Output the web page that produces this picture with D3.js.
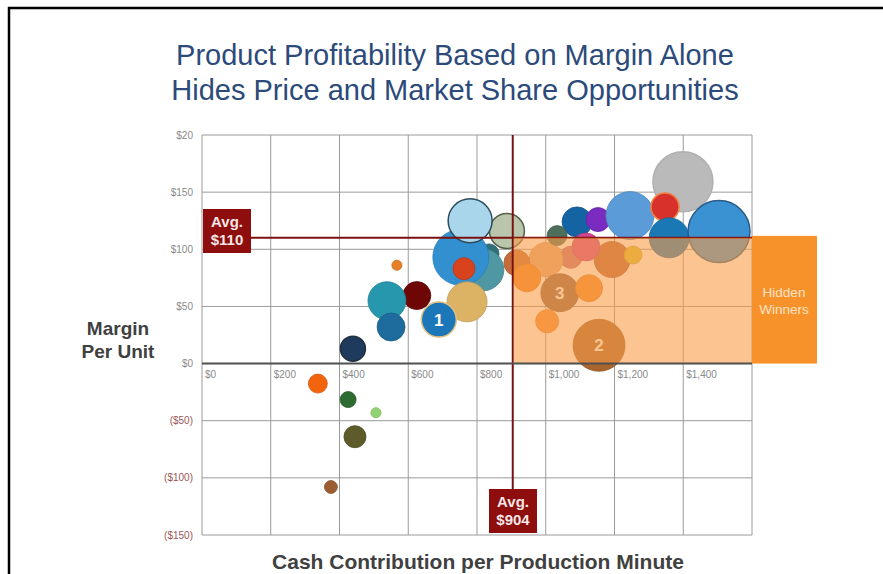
<!DOCTYPE html>
<html lang="en">
<head>
	<meta charset="utf-8">
	<title>Product Profitability</title>
	<script src="https://d3js.org/d3.v7.min.js"></script>
	<style>
		body { margin: 0; background: #fff; }
		svg { display: block; font-family: "Liberation Sans", Arial, sans-serif; }
	</style>
</head>
<body>
	<div id="chart"></div>
	<script>
		// Data
		const cash = [1091, 1152, 1245, 1399, 1347, 1359, 1504,
			1073, 1193, 1117, 1254, 1001, 1033,
			916, 945, 1041, 1126, 1004, 1155,
			835, 817, 753, 887, 780, 762, 771, 689,
			625, 538, 550, 567, 439, 337, 425, 506, 445, 375];
		const margin = [124, 126, 129.5, 159, 137, 110, 115.5,
			93, 91, 102, 95, 91, 112,
			88, 75, 62, 66, 37, 16,
			96, 82, 93, 116, 125, 83, 54, 38.5,
			59.5, 55, 32, 86, 13, -17.5, -31.5, -43, -64, -108];
		const volume = [140, 90, 360, 562, 122, 250, 600,
			76, 202, 122, 50, 180, 62,
			106, 122, 225, 114, 83, 422,
			62, 276, 490, 191, 302, 76, 250, 191,
			122, 225, 122, 16, 98, 56, 40, 16, 76, 26];
		const colors = ["#1463a3", "#7a2bc0", "#5b9bd8", "#bababa", "#d8302a", "#1a78b4", "#3a92d3",
			"#c4707a", "#b86440", "#d2458f", "#d9c235", "#e3a878", "#4d6e5a",
			"#c46d3a", "#f28526", "#8c6448", "#f58a2c", "#f7903a", "#a8652e",
			"#2e6f78", "#4f97a2", "#3390d0", "#b9c6ac", "#a9d6ea", "#d8421c", "#dcb264", "#1b77b7",
			"#6e0606", "#2697ad", "#1e6c9d", "#e58026", "#1e3b5e", "#f3640f", "#2e6b32", "#92d274", "#5d5b2a", "#9c5c32"];
		const strokes = { 3: "#b0b0b0", 6: "#2a5b85", 22: "#55604a", 23: "#2b4a5e", 26: "#e0c080", 4: "#f08040", 31: "#233040" };
		const tags = { 15: "3", 18: "2", 26: "1" };

		const yTicks = [200, 150, 100, 50, 0, -50, -100, -150];
		const yLabels = ["$20", "$150", "$100", "$50", "$0", "($50)", "($100)", "($150)"];
		const xTicks = [0, 200, 400, 600, 800, 1000, 1200, 1400, 1600];
		const xLabels = ["$0", "$200", "$400", "$600", "$800", "$1,000", "$1,200", "$1,400", ""];

		const avgCash = 904;
		const avgMargin = 110;

		const W = 883, H = 574;
		const svg = d3.select("#chart").append("svg")
			.attr("width", W)
			.attr("height", H);

		// frame
		svg.append("path")
			.attr("d", "M9,574 V8 H883")
			.attr("fill", "none")
			.attr("stroke", "#000")
			.attr("stroke-width", 2.5);

		// Scales
		const x = d3.scaleLinear().domain([0, 1600]).range([202, 752]);
		const y = d3.scaleLinear().domain([-150, 200]).range([535, 135]);
		const r = d3.scaleSqrt().domain([0, 1000]).range([0, 40]);

		// Title
		svg.append("g").selectAll("text")
			.data(["Product Profitability Based on Margin Alone", "Hides Price and Market Share Opportunities"])
			.join("text")
			.attr("x", 455)
			.attr("y", (d, i) => 65 + i * 35)
			.attr("text-anchor", "middle")
			.style("font-size", "29px")
			.style("fill", "#2c4a7a")
			.text(d => d);

		// Grid
		const grid = svg.append("g");
		grid.selectAll(".vg")
			.data(xTicks)
			.join("line")
			.attr("x1", d => x(d)).attr("x2", d => x(d))
			.attr("y1", y(200)).attr("y2", y(-150))
			.attr("stroke", "#9a9a9a");
		grid.selectAll(".hg")
			.data(yTicks)
			.join("line")
			.attr("x1", x(0)).attr("x2", x(1600))
			.attr("y1", d => y(d)).attr("y2", d => y(d))
			.attr("stroke", "#9a9a9a");

		// Tick labels
		svg.append("g").selectAll("text")
			.data(yTicks)
			.join("text")
			.attr("x", 193)
			.attr("y", d => y(d) + 3.5)
			.attr("text-anchor", "end")
			.style("font-size", "10px")
			.style("fill", d => d < 0 ? "#9a5656" : "#8a8a8a")
			.text((d, i) => yLabels[i]);

		svg.append("g").selectAll("text")
			.data(xTicks)
			.join("text")
			.attr("x", d => x(d) + 3)
			.attr("y", y(0) + 14)
			.style("font-size", "10px")
			.style("fill", "#8a8a8a")
			.text((d, i) => xLabels[i]);

		// Bubbles
		const bubbles = svg.append("g");
		bubbles.selectAll("circle")
			.data(cash)
			.join("circle")
			.attr("cx", d => x(d))
			.attr("cy", (d, i) => y(margin[i]))
			.attr("r", (d, i) => r(volume[i]))
			.attr("fill", (d, i) => colors[i])
			.attr("stroke", (d, i) => strokes[i] || d3.color(colors[i]).darker(0.4))
			.attr("stroke-width", (d, i) => strokes[i] ? 1.5 : 0.8);

		bubbles.selectAll("text")
			.data(Object.keys(tags))
			.join("text")
			.attr("x", d => x(cash[d]))
			.attr("y", d => y(margin[d]) + 6)
			.attr("text-anchor", "middle")
			.style("font-size", "17px")
			.style("font-weight", "bold")
			.style("fill", "#fff")
			.text(d => tags[d]);

		// Average lines
		svg.append("line")
			.attr("x1", x(avgCash)).attr("x2", x(avgCash))
			.attr("y1", y(200)).attr("y2", 490)
			.attr("stroke", "#7a1010")
			.attr("stroke-width", 2);
		svg.append("line")
			.attr("x1", 250).attr("x2", x(1600))
			.attr("y1", y(avgMargin)).attr("y2", y(avgMargin))
			.attr("stroke", "#7a1010")
			.attr("stroke-width", 2);

		// Hidden winners overlay
		svg.append("rect")
			.attr("x", x(avgCash) + 1)
			.attr("y", y(avgMargin))
			.attr("width", x(1600) - x(avgCash) - 1)
			.attr("height", y(0) - y(avgMargin))
			.attr("fill", "#f99c48")
			.attr("opacity", 0.6);

		// zero line
		svg.append("line")
			.attr("x1", x(0)).attr("x2", x(1600))
			.attr("y1", y(0)).attr("y2", y(0))
			.attr("stroke", "#505050")
			.attr("stroke-width", 2);

		svg.append("rect")
			.attr("x", x(1600))
			.attr("y", y(avgMargin) - 2)
			.attr("width", 65)
			.attr("height", y(0) - y(avgMargin) + 2)
			.attr("fill", "#f7922a");
		svg.append("g").selectAll("text")
			.data(["Hidden", "Winners"])
			.join("text")
			.attr("x", x(1600) + 32)
			.attr("y", (d, i) => 297 + i * 17)
			.attr("text-anchor", "middle")
			.style("font-size", "13.5px")
			.style("fill", "#fde3c6")
			.text(d => d);

		// Average tags
		const tagBox = (bx, by, val) => {
			const g = svg.append("g");
			g.append("rect")
				.attr("x", bx).attr("y", by)
				.attr("width", 48).attr("height", 44)
				.attr("fill", "#8e0d0d");
			g.selectAll("text")
				.data(["Avg.", val])
				.join("text")
				.attr("x", bx + 24)
				.attr("y", (d, i) => by + 18 + i * 18)
				.attr("text-anchor", "middle")
				.style("font-size", "15px")
				.style("font-weight", "bold")
				.style("fill", "#f6e6e6")
				.text(d => d);
		};
		tagBox(203, 209, "$" + avgMargin);
		tagBox(489, 489, "$" + avgCash);

		// Axis titles
		svg.append("g").selectAll("text")
			.data(["Margin", "Per Unit"])
			.join("text")
			.attr("x", 118)
			.attr("y", (d, i) => 335 + i * 23)
			.attr("text-anchor", "middle")
			.style("font-size", "19px")
			.style("font-weight", "bold")
			.style("fill", "#404040")
			.text(d => d);

		svg.append("text")
			.attr("x", 478)
			.attr("y", 569)
			.attr("text-anchor", "middle")
			.style("font-size", "21px")
			.style("font-weight", "bold")
			.style("fill", "#404040")
			.text("Cash Contribution per Production Minute");
	</script>
</body>
</html>
